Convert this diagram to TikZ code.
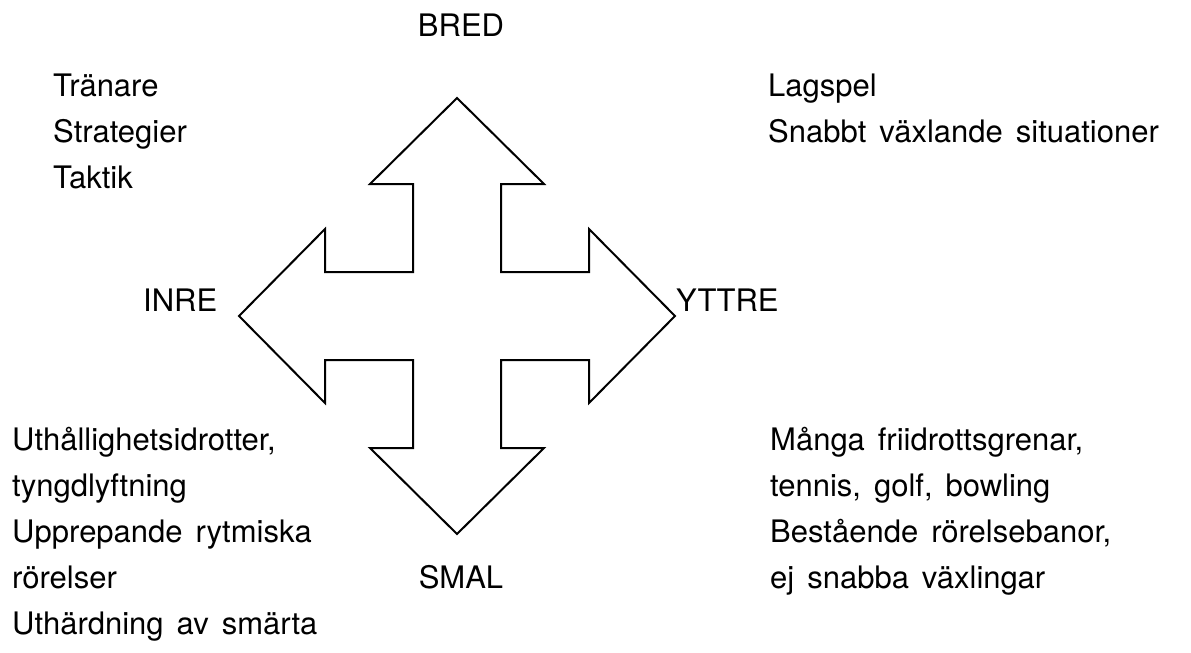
\documentclass[tikz,border=0pt]{standalone}
\usepackage{fontspec}
\setmainfont{TeX Gyre Heros}
\newcommand\mylblfont{\fontsize{31}{37}\selectfont\spaceskip=13pt plus 2pt minus 1pt\relax}
\begin{document}
\begin{tikzpicture}[x=1pt,y=-1pt,
  lbl/.style={inner sep=0pt,anchor=base west,font=\mylblfont},
  clbl/.style={inner sep=0pt,anchor=base,font=\mylblfont},
  shape4/.style={draw=black,line width=2pt,line join=miter}]
\useasboundingbox (0,0) rectangle (1191,653);
% four-way arrow, centre (457,316)
\begin{scope}[shift={(457,316)}]
\draw[shape4] (0,-218) -- (87,-132) -- (44,-132) -- (44,-44) -- (132,-44) -- (132,-87)
  -- (218,0) -- (132,87) -- (132,44) -- (44,44) -- (44,132) -- (87,132)
  -- (0,218) -- (-87,132) -- (-44,132) -- (-44,44) -- (-132,44) -- (-132,87)
  -- (-218,0) -- (-132,-87) -- (-132,-44) -- (-44,-44) -- (-44,-132) -- (-87,-132) -- cycle;
\end{scope}
\node[clbl] (bred) at (461,36) {BRED};
\node[clbl] (smal) at (461,588) {SMAL};
\node[lbl] (inre) at (143,311) {INRE};
\node[lbl] (yttre) at (676,311) {YTTRE};
\node[lbl] (t1) at (53,96) {Tränare};
\node[lbl] (t2) at (53,142) {Strategier};
\node[lbl] (t3) at (53,188) {Taktik};
\node[lbl] (r1) at (768,96) {Lagspel};
\node[lbl] (r2) at (768,142) {Snabbt växlande situationer};
\node[lbl] (l1) at (12,450) {Uthållighetsidrotter,};
\node[lbl] (l2) at (12,496) {tyngdlyftning};
\node[lbl] (l3) at (12,542) {Upprepande rytmiska};
\node[lbl] (l4) at (12,588) {rörelser};
\node[lbl] (l5) at (12,634) {Uthärdning av smärta};
\node[lbl] (b1) at (770,450) {Många friidrottsgrenar,};
\node[lbl] (b2) at (770,496) {tennis, golf, bowling};
\node[lbl] (b3) at (770,542) {Bestående rörelsebanor,};
\node[lbl] (b4) at (770,588) {ej snabba växlingar};
\end{tikzpicture}
\end{document}
